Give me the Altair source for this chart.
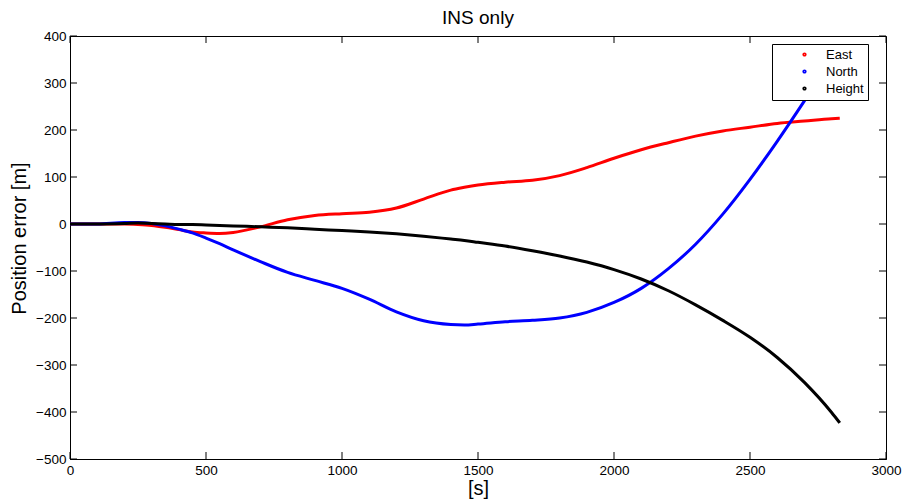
import altair as alt
import pandas as pd

# Time stamps [s] and position error per axis [m]
times = [0, 100, 200, 250, 300, 350, 400, 450, 500, 550, 600, 700, 800, 900,
         1000, 1100, 1200, 1300, 1400, 1450, 1500, 1600, 1700, 1800, 1900,
         2000, 2100, 2200, 2300, 2400, 2500, 2600, 2700, 2800, 2830]

east = [0, 0, 0, -1, -3, -7, -12, -17, -19, -20, -18, -6, 9, 18,
        22, 25, 34, 53, 72, 78, 83, 89, 93, 103, 120,
        140, 158, 173, 187, 198, 206, 214, 219, 224, 225]

north = [0, 0, 3, 3, 1, -4, -11, -19, -30, -42, -55, -80, -103, -120,
         -137, -160, -187, -206, -214, -215, -213, -208, -205, -200, -188,
         -167, -137, -95, -43, 21, 95, 176, 262, 352, 380]

height = [0, 0, 1, 2, 1, 0, -1, -1, -2, -3, -4, -6, -8, -11,
          -14, -17, -21, -26, -32, -35, -39, -47, -57, -68, -81,
          -97, -117, -142, -172, -205, -241, -284, -337, -401, -423]

series_names = ["East", "North", "Height"]
series_colors = ["#ff0000", "#0000ff", "#000000"]

x_ticks = [0, 500, 1000, 1500, 2000, 2500, 3000]
y_ticks = [-500, -400, -300, -200, -100, 0, 100, 200, 300, 400]

W, H = 816, 423
TICK = 7
FONT = "Liberation Sans"

rows = []
for name, vals in zip(series_names, [east, north, height]):
    for t, v in zip(times, vals):
        rows.append({"t": t, "err": v, "series": name})
df = pd.DataFrame(rows)

x_scale = alt.Scale(domain=[0, 3000], nice=False, zero=False)
y_scale = alt.Scale(domain=[-500, 400], nice=False, zero=False)
color_scale = alt.Scale(domain=series_names, range=series_colors)

x_axis = alt.Axis(values=x_ticks, ticks=False, grid=False, title="[s]", format="d",
                  labelFontSize=13.5, labelPadding=4, titleFontSize=20,
                  titleFontWeight="normal", titlePadding=2, domainColor="black",
                  labelColor="black", titleColor="black", labelFlush=False)
y_axis = alt.Axis(values=y_ticks, ticks=False, grid=False, title="Position error [m]",
                  format="d", titleY=202,
                  labelFontSize=13.5, labelPadding=4, titleFontSize=20,
                  titleFontWeight="normal", titlePadding=6, domainColor="black",
                  labelColor="black", titleColor="black", labelFlush=False)

legend = alt.Legend(
    orient="none", legendX=702, legendY=8, title=None,
    fillColor="white", strokeColor="black",
    padding=4, rowPadding=3, symbolType="circle", symbolSize=3,
    symbolStrokeWidth=2.5, symbolOffset=22, labelOffset=15,
    labelFontSize=13, labelFont=FONT, labelColor="black",
)

base = alt.Chart(df)


def series_layer(name):
    return base.transform_filter(alt.datum.series == name).mark_line(
        strokeWidth=3, interpolate="monotone"
    ).encode(
        x=alt.X("t:Q", scale=x_scale, axis=x_axis),
        y=alt.Y("err:Q", scale=y_scale, axis=y_axis),
        color=alt.Color("series:N", scale=color_scale, legend=legend),
    )


lines = [series_layer(n) for n in series_names]

xt = pd.DataFrame({"t": x_ticks})
yt = pd.DataFrame({"err": y_ticks})

tick_bottom = alt.Chart(xt).mark_rule(color="black", strokeWidth=1).encode(
    x=alt.X("t:Q", scale=x_scale, axis=x_axis), y=alt.value(H), y2=alt.value(H - TICK))
tick_top = alt.Chart(xt).mark_rule(color="black", strokeWidth=1).encode(
    x=alt.X("t:Q", scale=x_scale, axis=x_axis), y=alt.value(0), y2=alt.value(TICK))
tick_left = alt.Chart(yt).mark_rule(color="black", strokeWidth=1).encode(
    y=alt.Y("err:Q", scale=y_scale, axis=y_axis), x=alt.value(0), x2=alt.value(TICK))
tick_right = alt.Chart(yt).mark_rule(color="black", strokeWidth=1).encode(
    y=alt.Y("err:Q", scale=y_scale, axis=y_axis), x=alt.value(W), x2=alt.value(W - TICK))

chart = alt.layer(
    *lines, tick_bottom, tick_top, tick_left, tick_right
).properties(
    width=W, height=H,
    title=alt.TitleParams("INS only", fontSize=19, fontWeight="normal",
                          font=FONT, color="black", offset=1),
    autosize=alt.AutoSizeParams(type="none"),
    padding={"left": 70, "top": 36, "right": 17, "bottom": 44},
).configure(
    font=FONT, background="white",
).configure_view(
    stroke="black", strokeWidth=1,
).configure_axis(
    labelFont=FONT, titleFont=FONT, domainWidth=1,
)

chart.save("out.html", embed_options={"renderer": "svg", "actions": False})
